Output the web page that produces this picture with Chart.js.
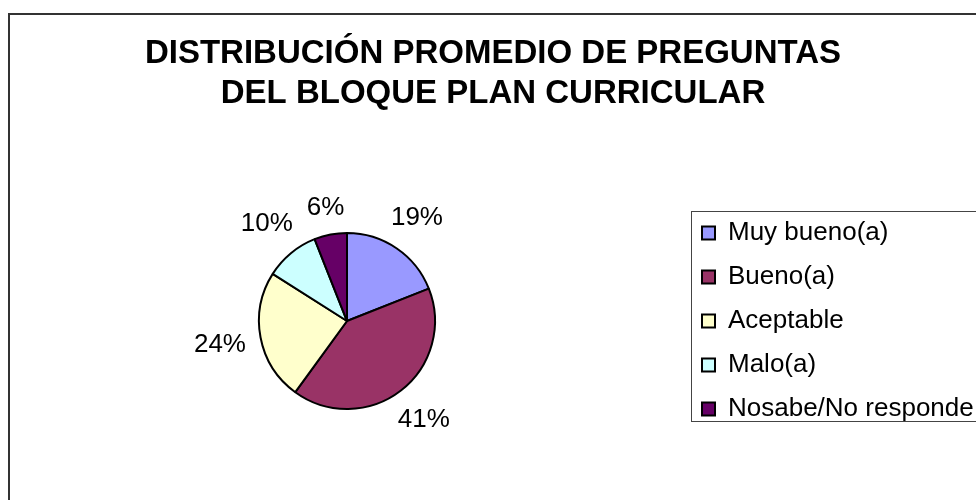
<!DOCTYPE html>
<html>
<head>
<meta charset="utf-8">
<script src="https://cdn.jsdelivr.net/npm/chart.js@4/dist/chart.umd.min.js"></script>
<style>
  body { margin: 0; background: #fff; overflow: hidden; }
  #chart { display: block; }
</style>
</head>
<body>
<canvas id="chart" width="976" height="500"></canvas>
<script>
// chart values
const titleLines = ["DISTRIBUCIÓN PROMEDIO DE PREGUNTAS", "DEL BLOQUE PLAN CURRICULAR"];
const categories = ["Muy bueno(a)", "Bueno(a)", "Aceptable", "Malo(a)", "Nosabe/No responde"];
const percentages = [19, 41, 24, 10, 6];
const sliceColors = ["#9999FF", "#993366", "#FFFFCC", "#CCFFFF", "#660066"];

const FONT = "'Liberation Sans', Arial, sans-serif";

// white background + outer frame
const framePlugin = {
  id: "frame",
  beforeDraw(chart) {
    const ctx = chart.ctx;
    ctx.save();
    ctx.fillStyle = "#fff";
    ctx.fillRect(0, 0, chart.width, chart.height);
    ctx.restore();
  },
  afterDraw(chart) {
    const ctx = chart.ctx;
    ctx.save();
    ctx.strokeStyle = "#333";
    ctx.lineWidth = 2;
    ctx.strokeRect(9, 14, chart.width + 20, chart.height + 20);

    // border around the legend
    const lg = chart.legend;
    if (lg && lg.legendHitBoxes && lg.legendHitBoxes.length) {
      const first = lg.legendHitBoxes[0];
      const last = lg.legendHitBoxes[lg.legendHitBoxes.length - 1];
      const x = Math.round(first.left - 11) + 0.5;
      const y = Math.round(first.top - 9) + 0.5;
      const b = Math.round(last.top + last.height - 1) + 0.5;
      ctx.lineWidth = 1;
      ctx.strokeStyle = "#444";
      ctx.strokeRect(x, y, chart.width + 20, b - y);
    }
    ctx.restore();
  }
};

// percentage labels outside the slices
const outsideLabels = {
  id: "outsideLabels",
  afterDatasetsDraw(chart) {
    const ctx = chart.ctx;
    const meta = chart.getDatasetMeta(0);
    const values = chart.data.datasets[0].data;
    const total = values.reduce((a, b) => a + b, 0);
    ctx.save();
    ctx.font = "26px " + FONT;
    ctx.fillStyle = "#000";
    ctx.textAlign = "center";
    ctx.textBaseline = "middle";
    meta.data.forEach((arc, i) => {
      const p = arc.getProps(["x", "y", "startAngle", "endAngle", "outerRadius"], true);
      const mid = (p.startAngle + p.endAngle) / 2;
      const text = Math.round(values[i] / total * 100) + "%";
      const w = ctx.measureText(text).width;
      const h = 19;
      const dist = p.outerRadius + 14 + Math.abs(Math.cos(mid)) * w / 2 + Math.abs(Math.sin(mid)) * h / 2;
      ctx.fillText(text, p.x + Math.cos(mid) * dist, p.y + Math.sin(mid) * dist);
    });
    ctx.restore();
  }
};

new Chart(document.getElementById("chart"), {
  type: "pie",
  data: {
    labels: categories,
    datasets: [
      {
        data: percentages,
        backgroundColor: sliceColors,
        borderColor: "#000",
        borderWidth: 2,
        radius: 88,
      },
    ],
  },
  options: {
    responsive: false,
    animation: false,
    events: [],
    layout: {
      padding: { left: 10, right: 0, top: 0, bottom: 38 },
    },
    plugins: {
      title: {
        display: true,
        text: titleLines,
        color: "#000",
        font: { family: FONT, size: 33, weight: "bold", lineHeight: 1.22 },
        padding: { top: 34, bottom: 65.5 },
      },
      legend: {
        position: "right",
        align: "center",
        fullSize: false,
        maxWidth: 292,
        labels: {
          color: "#000",
          font: { family: FONT, size: 26 },
          boxWidth: 13,
          boxHeight: 13,
          padding: 18,
        },
      },
      tooltip: { enabled: false },
    },
  },
  plugins: [framePlugin, outsideLabels],
});
</script>
</body>
</html>
